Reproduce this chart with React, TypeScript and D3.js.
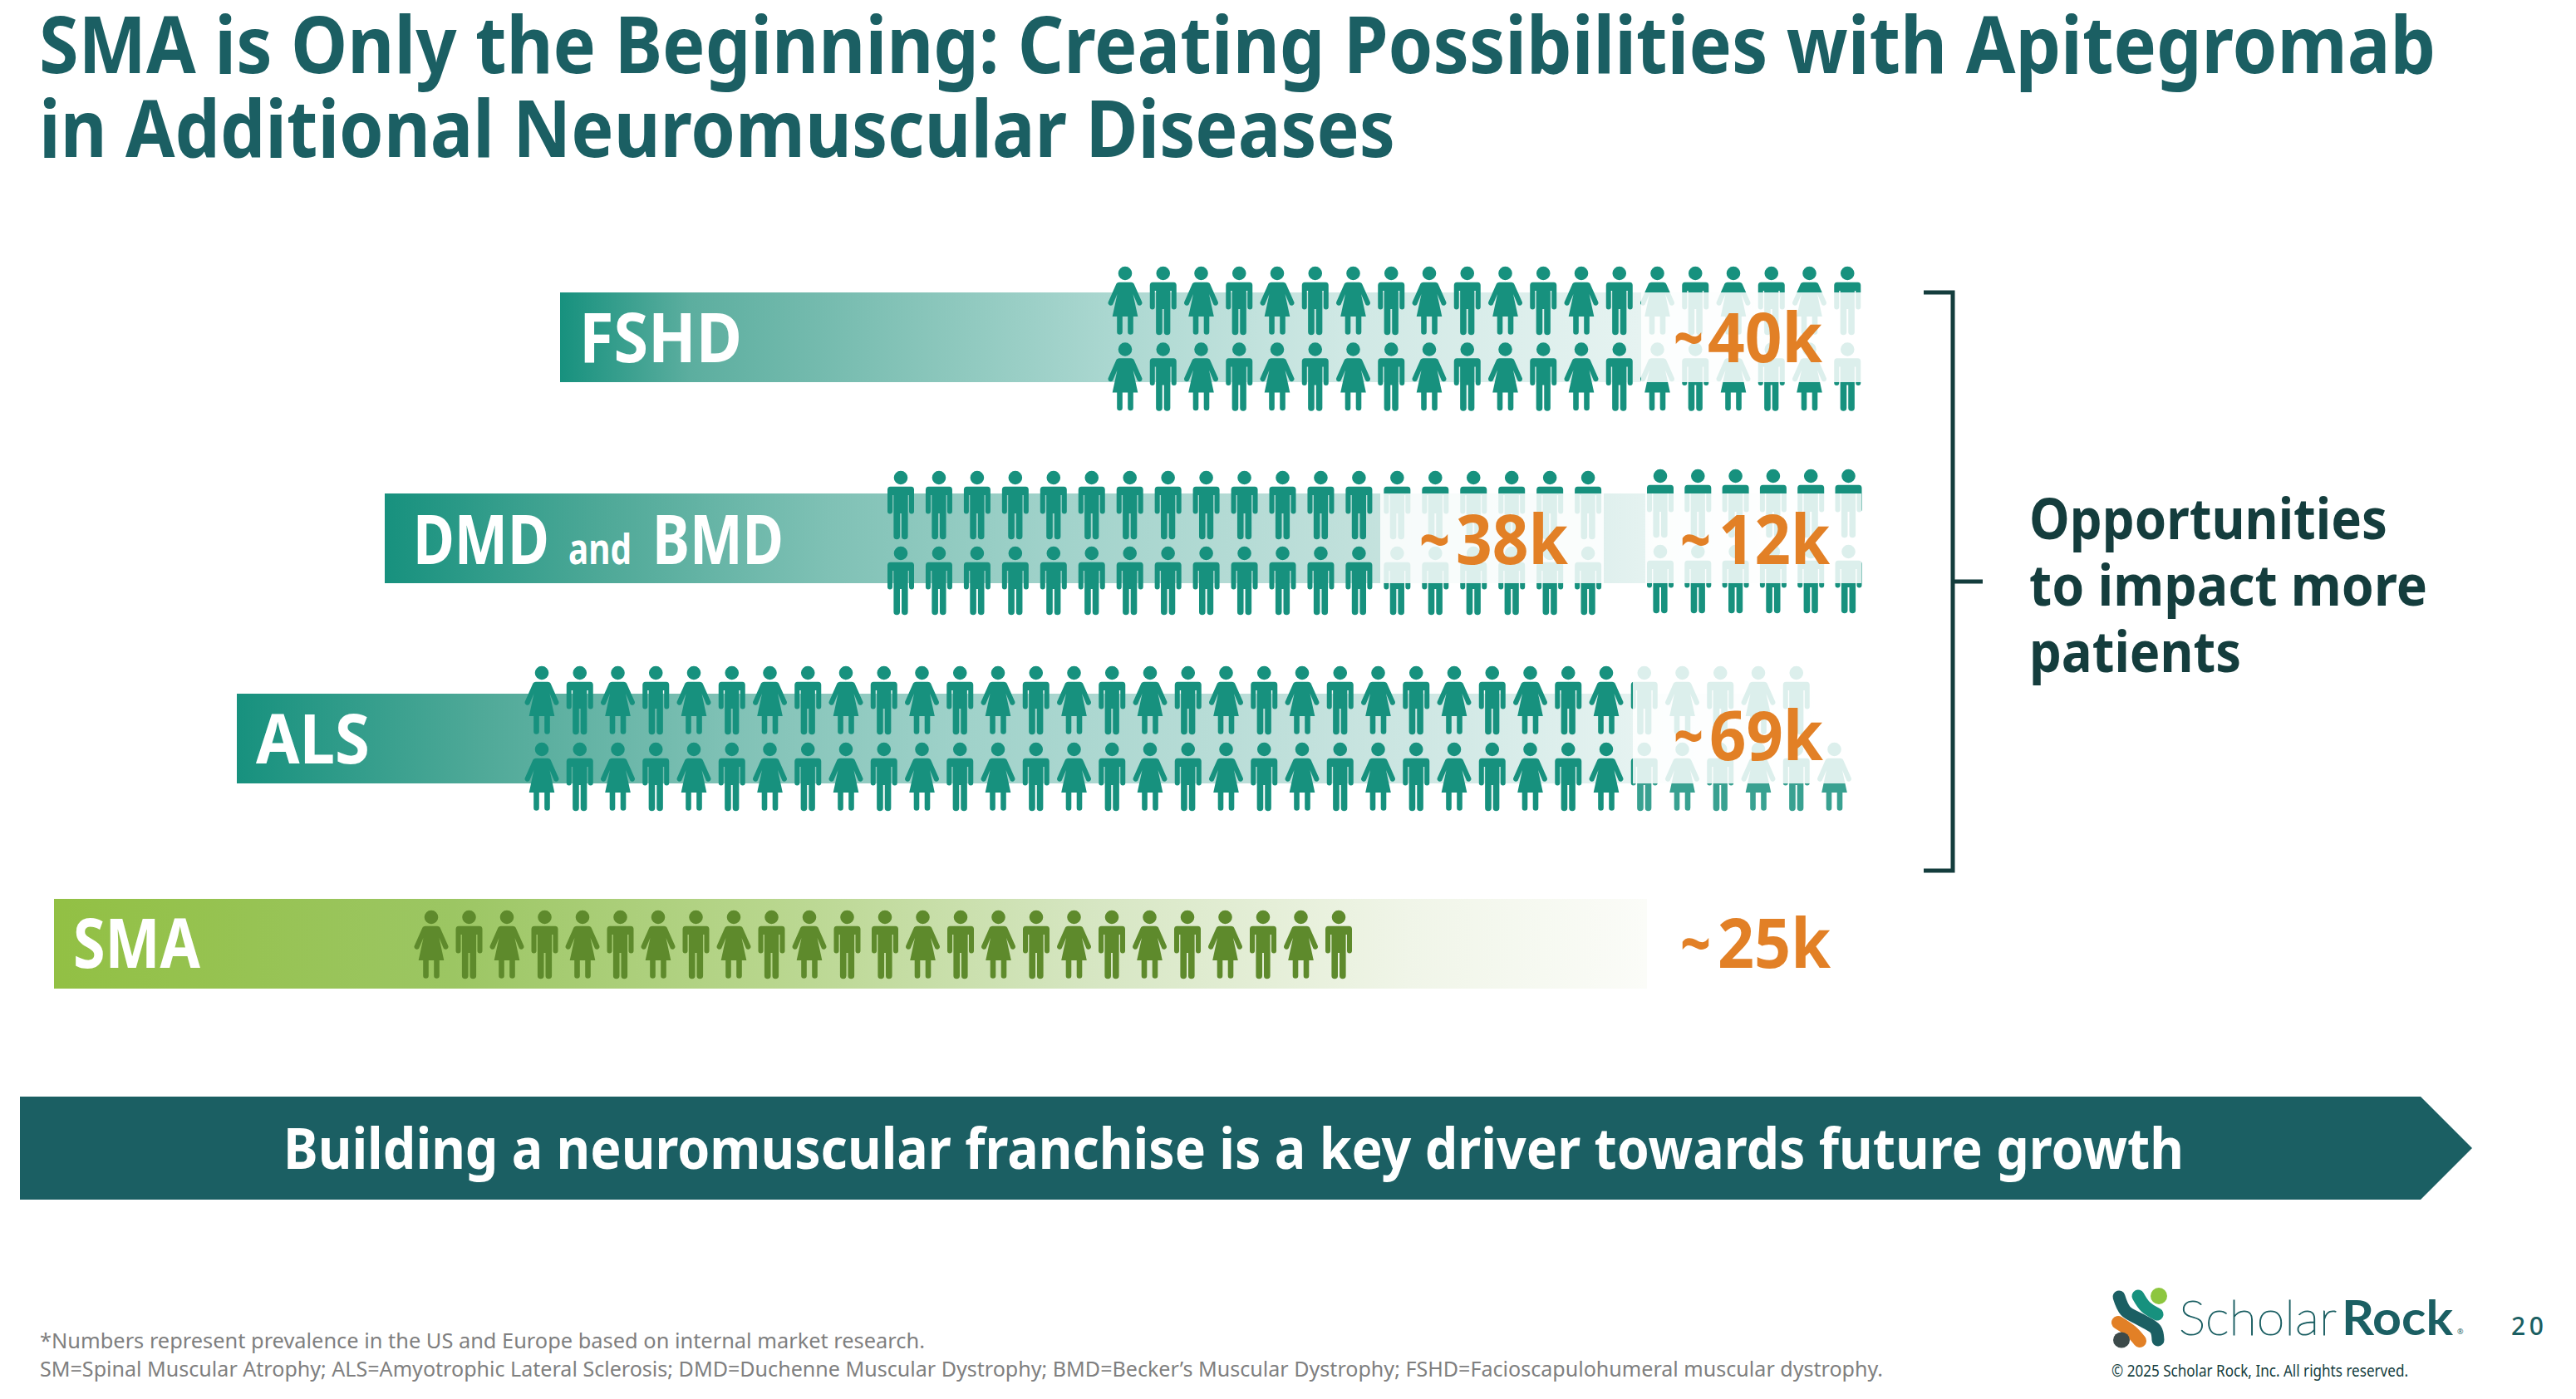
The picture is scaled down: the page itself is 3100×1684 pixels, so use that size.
import React from 'react';
import * as d3 from 'd3';

// ---- data ----
const categories = ['FSHD', 'DMD and BMD', 'ALS', 'SMA'];
const prevalenceLabels = [['40k'], ['38k', '12k'], ['69k'], ['25k']];
const fshdPeople = ['WMWMWMWMWMWMWMWMWMWM', 'WMWMWMWMWMWMWMWMWMWM'];
const dmdPeople = ['MMMMMMMMMMMMMMMMMMM', 'MMMMMMMMMMMMMMMMMMM'];
const bmdPeople = ['MMMMMM', 'MMMMMM'];
const alsPeople = ['WMWMWMWMWMWMWMWMWMWMWMWMWMWMWMWMWM', 'WMWMWMWMWMWMWMWMWMWMWMWMWMWMWMWMWMW'];
const smaPeople = ['WMWMWMWMWMWMMWMWMWMWMWMWM'];
const titleLines = ['SMA is Only the Beginning: Creating Possibilities with Apitegromab', 'in Additional Neuromuscular Diseases'];
const calloutLines = ['Opportunities', 'to impact more', 'patients'];
const bannerText = 'Building a neuromuscular franchise is a key driver towards future growth';
const footnotes = [
  '*Numbers represent prevalence in the US and Europe based on internal market research.',
  'SM=Spinal Muscular Atrophy; ALS=Amyotrophic Lateral Sclerosis; DMD=Duchenne Muscular Dystrophy; BMD=Becker\u2019s Muscular Dystrophy; FSHD=Facioscapulohumeral muscular dystrophy.',
];

// ---- styles and layout ----
const W = 3100, H = 1684;
const FONT = '"Noto Sans", "Open Sans", sans-serif';
const TEAL = '#17917e', GREEN_DARK = '#5e8a2c', ORANGE = '#e28026', DEEP = '#1b5f63', INK = '#143d3d';
const fshdStops: [number, string][] = [[0, '#17917e'], [0.1, '#5cae9f'], [0.28, '#88c5ba'], [0.42, '#aad7d0'], [0.6, '#cfe8e4'], [0.83, '#e6f3f1'], [1, '#ffffff']];
const tealStops: [number, string][] = [[0, '#17917e'], [0.15, '#4fa998'], [0.3, '#7fc1b5'], [0.45, '#a0d2ca'], [0.65, '#c0e0db'], [0.85, '#e4f2f0'], [1, '#ffffff']];
const greenStops: [number, string][] = [[0, '#92c044'], [0.25, '#9cc663'], [0.45, '#b8d68d'], [0.65, '#d6e6c2'], [0.85, '#f0f5e8'], [1, '#fbfcf8']];

const MAN = 'M-8.3,0a8.3,8.3 0 1,0 16.6,0a8.3,8.3 0 1,0 -16.6,0Z M-12.5,10.7H12.5Q16,10.7 16,14.5V40.5A3,3 0 0 1 10,40.5V21H8.6V70.5A3.8,3.8 0 0 1 1,70.5V43H-1V70.5A3.8,3.8 0 0 1 -8.6,70.5V21H-10V40.5A3,3 0 0 1 -16,40.5V14.5Q-16,10.7 -12.5,10.7Z';
const WOMAN = 'M-8.3,0a8.3,8.3 0 1,0 16.6,0a8.3,8.3 0 1,0 -16.6,0Z M-7,10.7H7Q10,10.7 11,13.5L20.5,35A3.2,3.2 0 0 1 14.8,37.5L9.5,25L15.3,52H9.8V70.5A3.3,3.3 0 0 1 3.2,70.5V52H-3.2V70.5A3.3,3.3 0 0 1 -9.8,70.5V52H-15.3L-9.5,25L-14.8,37.5A3.2,3.2 0 0 1 -20.5,35L-11,13.5Q-10,10.7 -7,10.7Z';

const bars = [
  { id: 'fshd', x0: 674, x1: 2240, y0: 352, y1: 460, stops: fshdStops },
  { id: 'dmd', x0: 463, x1: 2240, y0: 594, y1: 702, stops: tealStops },
  { id: 'als', x0: 285, x1: 2240, y0: 835, y1: 943, stops: tealStops },
  { id: 'sma', x0: 65, x1: 1982, y0: 1082, y1: 1190, stops: greenStops },
];
const crowds = [
  { rows: fshdPeople, x0: 1354, step: 45.75, y0: 329, rowGap: 91.5, fill: TEAL },
  { rows: dmdPeople, x0: 1084, step: 45.95, y0: 575, rowGap: 91, fill: TEAL },
  { rows: bmdPeople, x0: 1998, step: 45.3, y0: 573, rowGap: 91, fill: TEAL },
  { rows: alsPeople, x0: 652, step: 45.75, y0: 810, rowGap: 92, fill: TEAL },
  { rows: smaPeople, x0: 519, step: 45.5, y0: 1104, rowGap: 0, fill: GREEN_DARK },
];
const veils = [
  { x0: 1975, x1: 2240, y0: 352, y1: 460, o: 0.85 },
  { x0: 1661, x1: 1930, y0: 594, y1: 702, o: 0.85 },
  { x0: 1980, x1: 2240, y0: 594, y1: 702, o: 0.85 },
  { x0: 1965, x1: 2240, y0: 795, y1: 943, o: 0.85 },
  { x0: 1965, x1: 2240, y0: 943, y1: 990, o: 0.15 },
];
const labelBoxes = [
  [{ t: 'FSHD', x0: 697, x1: 893, y: 436, s: 82 }],
  [{ t: 'DMD', x0: 497, x1: 661, y: 679, s: 82 }, { t: 'and', x0: 684, x1: 760, y: 679, s: 50 }, { t: 'BMD', x0: 785, x1: 943, y: 679, s: 82 }],
  [{ t: 'ALS', x0: 308, x1: 445, y: 919, s: 82 }],
  [{ t: 'SMA', x0: 88, x1: 241, y: 1165, s: 82 }],
];
const tildeBoxes = [
  [{ x0: 2014, x1: 2050, y: 436 }],
  [{ x0: 1708, x1: 1745, y: 679 }, { x0: 2022, x1: 2059, y: 679 }],
  [{ x0: 2014, x1: 2050, y: 915 }],
  [{ x0: 2022, x1: 2059, y: 1165 }],
];
const valueBoxes = [
  [{ x0: 2055, x1: 2193, y: 436 }],
  [{ x0: 1752, x1: 1887, y: 679 }, { x0: 2068, x1: 2202, y: 679 }],
  [{ x0: 2057, x1: 2194, y: 915 }],
  [{ x0: 2067, x1: 2203, y: 1165 }],
];
const logoStrokes = [
  { c: '#1b5f63', w: 15, pts: [[2550, 1561], [2558, 1578], [2575, 1588], [2594, 1600], [2597, 1613]] },
  { c: '#17917e', w: 15, pts: [[2573, 1560], [2582, 1573], [2596, 1582]] },
  { c: '#e28026', w: 16, pts: [[2549, 1592], [2565, 1603], [2575, 1614]] },
];

function Fit({ t, x0, x1, y, s, fill, weight = 700, family = FONT, spacing = false, stroke, strokeWidth }: any) {
  return (
    <text x={x0} y={y} fontFamily={family} fontSize={s} fontWeight={weight} fill={fill} stroke={stroke} strokeWidth={strokeWidth}
      textLength={x1 - x0} lengthAdjust={spacing ? 'spacing' : 'spacingAndGlyphs'}>{t}</text>
  );
}

export default function App() {
  const logoLine = d3.line<number[]>().x(d => d[0]).y(d => d[1]).curve(d3.curveCatmullRom.alpha(0.5));
  return (
    <svg width={W} height={H} viewBox={`0 0 ${W} ${H}`} style={{ position: 'absolute', left: 0, top: 0, background: '#fff' }}>
      <defs>
        {bars.map(b => (
          <linearGradient key={b.id} id={`g-${b.id}`} x1="0" x2="1" y1="0" y2="0">
            {b.stops.map(([o, c]) => <stop key={o} offset={o} stopColor={c} />)}
          </linearGradient>
        ))}
      </defs>

      {titleLines.map((t, i) => (
        <Fit key={t} t={t} x0={47} x1={i === 0 ? 2931 : 1679} y={i === 0 ? 88 : 189} s={95} fill={DEEP} />
      ))}

      {bars.map(b => (
        <rect key={b.id} x={b.x0} y={b.y0} width={b.x1 - b.x0} height={b.y1 - b.y0} fill={`url(#g-${b.id})`} />
      ))}

      {crowds.map((c, ci) => {
        const xs = d3.scaleLinear().domain([0, 1]).range([c.x0, c.x0 + c.step]);
        const ys = d3.scaleLinear().domain([0, 1]).range([c.y0, c.y0 + c.rowGap]);
        return c.rows.map((row, r) => row.split('').map((k, i) => (
          <path key={`${ci}-${r}-${i}`} d={k === 'W' ? WOMAN : MAN} fill={c.fill} transform={`translate(${xs(i)},${ys(r)})`} />
        )));
      })}

      {veils.map((v, i) => (
        <rect key={i} x={v.x0} y={v.y0} width={v.x1 - v.x0} height={v.y1 - v.y0} fill="#fff" opacity={v.o} />
      ))}

      {labelBoxes.map((parts, i) => (
        <g key={categories[i]} aria-label={categories[i]}>
          {parts.map(p => <Fit key={p.t} {...p} fill="#fff" />)}
        </g>
      ))}

      {prevalenceLabels.map((labels, i) => labels.map((t, j) => (
        <g key={t}>
          <Fit t="~" {...tildeBoxes[i][j]} s={82} fill={ORANGE} />
          <Fit t={t} {...valueBoxes[i][j]} s={82} fill={ORANGE} />
        </g>
      )))}

      <path d="M2315,352H2350V1048H2315M2350,700H2386" fill="none" stroke={INK} strokeWidth={5} />
      {calloutLines.map((t, i) => (
        <Fit key={t} t={t} x0={2442} x1={[2873, 2921, 2697][i]} y={649 + i * 80} s={68} fill={INK} />
      ))}

      <path d="M24,1320H2913L2975,1382L2913,1444H24Z" fill={DEEP} />
      <Fit t={bannerText} x0={341} x1={2628} y={1407} s={68} fill="#fff" />

      {footnotes.map((t, i) => (
        <Fit key={i} t={t} x0={48} x1={i === 0 ? 1113 : 2266} y={i === 0 ? 1623 : 1657} s={25} fill="#7f7f7f" weight={400} />
      ))}

      {logoStrokes.map((s, i) => (
        <path key={i} d={logoLine(s.pts) as string} fill="none" stroke={s.c} strokeWidth={s.w} strokeLinecap="round" strokeLinejoin="round" />
      ))}
      <circle cx={2598} cy={1560} r={10} fill="#8dc63f" />
      <ellipse cx={2553} cy={1613} rx={10} ry={9.5} fill="#3c4a4a" />
      <Fit t="Scholar" x0={2622} x1={2812} y={1607} s={57} fill={DEEP} weight={200} stroke={DEEP} strokeWidth={1.1} family='Lato, "Noto Sans", sans-serif' />
      <Fit t="Rock" x0={2818} x1={2952} y={1607} s={57} fill={DEEP} weight={700} family='Lato, "Noto Sans", sans-serif' />
      <text x={2957} y={1606} fontFamily={FONT} fontSize={9} fill={DEEP}>®</text>
      <Fit t="20" x0={3022} x1={3061} y={1607} s={30} fill={DEEP} weight={500} spacing />
      <Fit t="© 2025 Scholar Rock, Inc. All rights reserved." x0={2541} x1={2898} y={1657} s={20} fill={INK} weight={400} />
    </svg>
  );
}
